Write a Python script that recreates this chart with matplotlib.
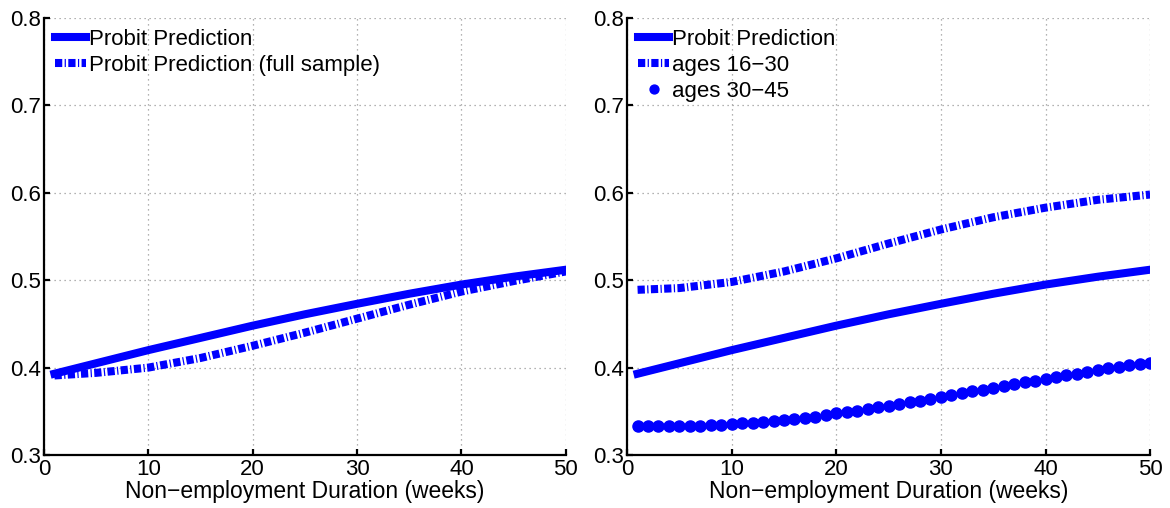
import matplotlib.pyplot as plt

plt.rcParams['font.family'] = ['Liberation Sans', 'DejaVu Sans']

# weeks of non-employment
weeks_line = [1, 5, 10, 15, 20, 25, 30, 35, 40, 45, 50]
weeks_all = list(range(1, 51))

# probit prediction (baseline)
probit = [0.393, 0.405, 0.420, 0.434, 0.448, 0.461, 0.473, 0.4845, 0.495, 0.504, 0.512]
# full sample
probit_full = [0.391, 0.394, 0.400, 0.411, 0.425, 0.440, 0.456, 0.472, 0.487, 0.499, 0.510]
# ages 16-30
ages_16_30 = [0.489, 0.491, 0.498, 0.510, 0.525, 0.542, 0.558, 0.572, 0.583, 0.592, 0.598]
# ages 30-45 (one marker per week)
ages_30_45 = [0.333, 0.333, 0.333, 0.333, 0.333, 0.333, 0.3334, 0.3338, 0.3346, 0.3353,
              0.3365, 0.3372, 0.338, 0.3391, 0.3403, 0.3414, 0.3426, 0.3437, 0.3456, 0.3475,
              0.349, 0.3506, 0.3525, 0.3544, 0.3562, 0.3585, 0.3604, 0.3623, 0.3642, 0.3664,
              0.3687, 0.3707, 0.3729, 0.3749, 0.3767, 0.379, 0.3813, 0.3832, 0.3847, 0.387,
              0.3893, 0.3916, 0.3931, 0.395, 0.3973, 0.3992, 0.4007, 0.4026, 0.4041, 0.4057]

xticks = [0, 10, 20, 30, 40, 50]
yticks = [0.3, 0.4, 0.5, 0.6, 0.7, 0.8]

blue = (0, 0, 1)
lw = 5.8
dd = (0.9, 0.3, 0.15, 0.3)

fig = plt.figure(figsize=(11.7, 5.08), dpi=100)
ax1 = fig.add_axes([0.0376, 0.1043, 0.446, 0.8603])
ax2 = fig.add_axes([0.536, 0.1043, 0.447, 0.8603])

ax1.plot(weeks_line, probit, color=blue, lw=lw, label='Probit Prediction')
ax1.plot(weeks_line, probit_full, color=blue, lw=lw, linestyle=(0, dd),
         label='Probit Prediction (full sample)')

ax2.plot(weeks_line, probit, color=blue, lw=lw, label='Probit Prediction')
ax2.plot(weeks_line, ages_16_30, color=blue, lw=lw, linestyle=(0, dd), label='ages 16\u221230')
ax2.plot(weeks_all, ages_30_45, color=blue, linestyle='none', marker='o', markersize=8,
         label='ages 30\u221245')

for ax in (ax1, ax2):
    ax.set_xlim(0, 50)
    ax.set_ylim(0.3, 0.8)
    ax.set_xticks(xticks)
    ax.set_yticks(yticks)
    ax.set_yticklabels(['%.1f' % v for v in yticks])
    ax.grid(True, linestyle=(0, (1, 3)), color='#999999', linewidth=0.9)
    ax.set_axisbelow(True)
    ax.spines['top'].set_visible(False)
    ax.spines['right'].set_visible(False)
    ax.spines['left'].set_linewidth(1.6)
    ax.spines['bottom'].set_linewidth(1.6)
    ax.tick_params(direction='in', length=4, width=1.6, labelsize=16)
    ax.tick_params(axis='x', pad=3)
    ax.tick_params(axis='y', pad=2)
    ax.set_xlabel('Non\u2212employment Duration (weeks)', fontsize=16.5, labelpad=0)
    ax.legend(loc='upper left', frameon=False, fontsize=16, handlelength=1.4,
              handletextpad=0.12, labelspacing=0.22, borderaxespad=0.2, borderpad=0.3,
              markerscale=0.8)

fig.savefig('out.png', dpi=100)
